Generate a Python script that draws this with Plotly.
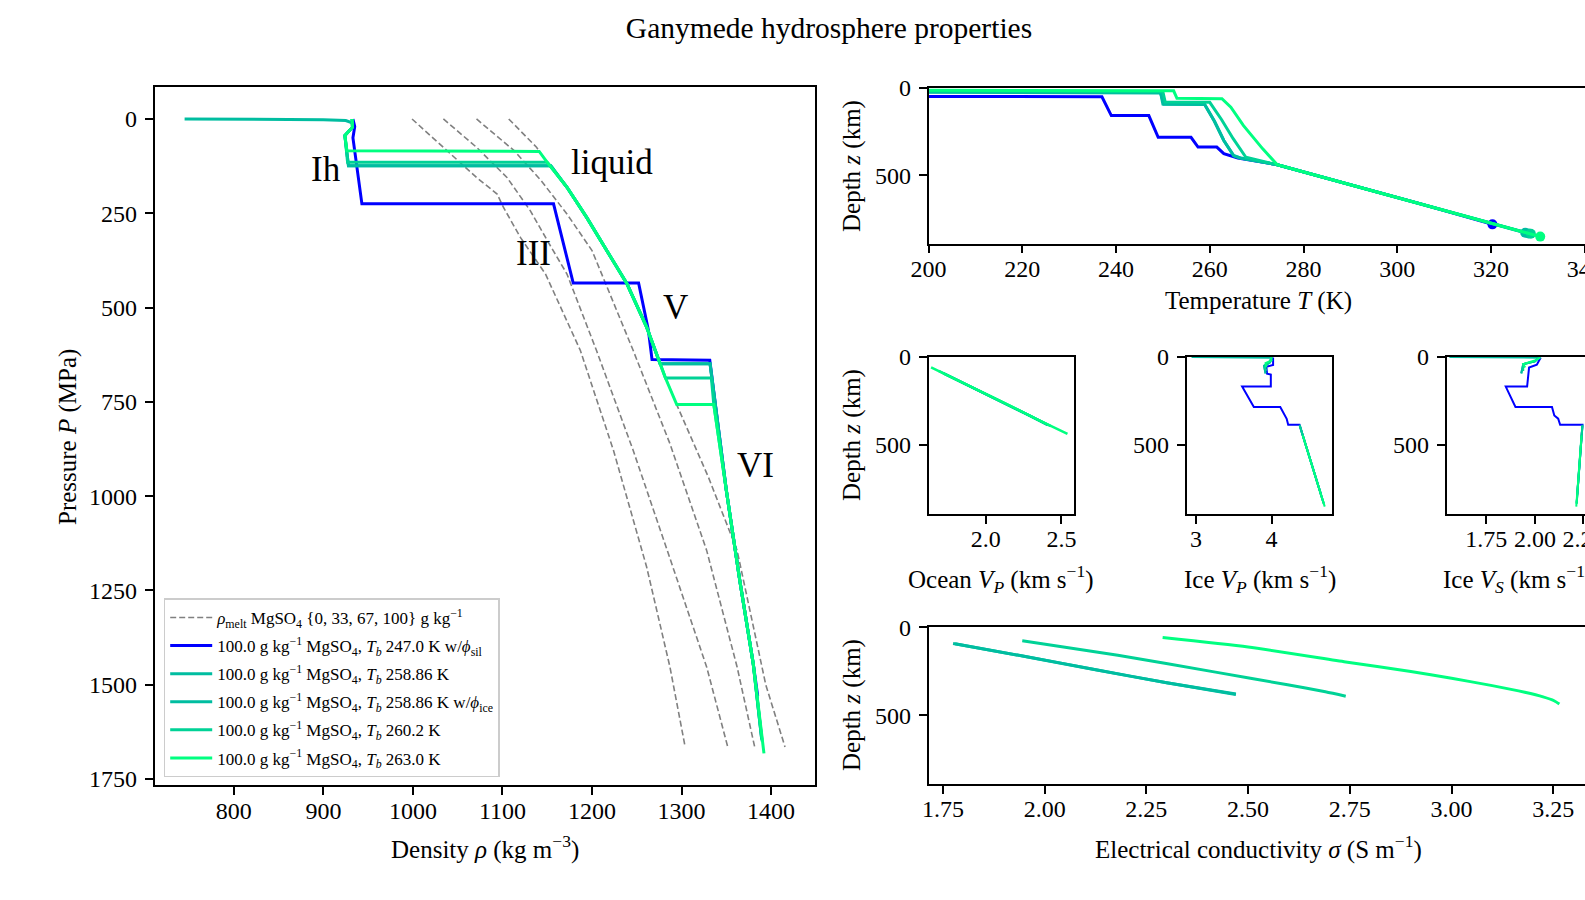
import plotly.graph_objects as go

FONT = "Liberation Serif, Times New Roman, serif"
W, H = 1585, 900

# ---------------- series metadata ----------------
series_names = [
    "100.0 g kg<sup>−1</sup> MgSO<sub>4</sub>, <i>T</i><sub><i>b</i></sub> 247.0 K w/<i>ϕ</i><sub>sil</sub>",
    "100.0 g kg<sup>−1</sup> MgSO<sub>4</sub>, <i>T</i><sub><i>b</i></sub> 258.86 K",
    "100.0 g kg<sup>−1</sup> MgSO<sub>4</sub>, <i>T</i><sub><i>b</i></sub> 258.86 K w/<i>ϕ</i><sub>ice</sub>",
    "100.0 g kg<sup>−1</sup> MgSO<sub>4</sub>, <i>T</i><sub><i>b</i></sub> 260.2 K",
    "100.0 g kg<sup>−1</sup> MgSO<sub>4</sub>, <i>T</i><sub><i>b</i></sub> 263.0 K",
]
series_colors = ["rgb(0,0,255)", "rgb(0,189,160)", "rgb(0,189,160)", "rgb(0,210,150)", "rgb(0,255,128)"]
melt_name = "<i>ρ</i><sub>melt</sub> MgSO<sub>4</sub> {0, 33, 67, 100} g kg<sup>−1</sup>"

# ---------------- left panel: density vs pressure ----------------
melt_rho = [
    [999, 1038, 1071, 1094, 1101, 1120, 1148, 1187, 1224, 1261, 1287, 1304],
    [1034, 1071, 1105, 1131, 1150, 1172, 1205, 1246, 1284, 1328, 1352],
    [1071, 1113, 1143, 1172, 1200, 1246, 1287, 1328, 1362, 1382],
    [1107, 1138, 1150, 1172, 1194, 1216.5, 1239, 1261, 1276, 1295, 1330, 1362, 1394, 1415.5],
]
melt_P = [
    [0, 84, 155, 199, 234, 314, 411, 614, 879, 1188, 1453, 1665],
    [0, 75, 155, 243, 322, 411, 614, 879, 1144, 1453, 1669],
    [0, 84, 163, 252, 349, 614, 861, 1144, 1453, 1669],
    [0, 75, 115, 181, 261, 349, 437, 552, 649, 760, 950, 1144, 1500, 1665],
]

rho = [
    [933, 935, 933, 936, 943, 1157, 1179, 1252, 1263, 1267, 1331.5, 1350, 1365, 1380, 1385],
    [932, 932.5, 924, 926, 928, 1154, 1172, 1194, 1216.5, 1239, 1261, 1276, 1331.8, 1350, 1365, 1380, 1389.5],
    [745, 800, 860, 900, 925, 932, 932.5, 924, 926, 928, 1154, 1172, 1194, 1216.5, 1239, 1261, 1276,
     1331.8, 1350, 1365, 1380, 1389.5],
    [932, 932.5, 924, 926, 927, 1150, 1172, 1194, 1216.5, 1239, 1261, 1276, 1282, 1333.3, 1336, 1350,
     1365, 1380, 1390],
    [932, 932.5, 924, 926.3, 1141, 1150, 1172, 1194, 1216.5, 1239, 1261, 1276, 1282, 1294.6, 1336, 1350,
     1365, 1380, 1392],
]
pres = [
    [0, 20, 50, 100, 225, 225, 435, 435, 561, 638, 640, 985, 1224, 1444, 1530],
    [0, 22, 44, 84, 124, 124, 181, 261, 349, 437, 552, 649, 649, 985, 1224, 1444, 1645],
    [0, 0.4, 1, 2, 4, 10, 22, 44, 84, 124, 124, 181, 261, 349, 437, 552, 649, 649, 985, 1224, 1444, 1645],
    [0, 22, 44, 84, 115, 115, 181, 261, 349, 437, 552, 649, 687, 687, 757, 985, 1224, 1444, 1650],
    [0, 22, 44, 84, 86, 115, 181, 261, 349, 437, 552, 649, 687, 757, 757, 985, 1224, 1444, 1682],
]

phase_labels = ["Ih", "liquid", "III", "V", "VI"]
phase_rho = [903, 1222, 1135, 1293, 1383]
phase_P = [134, 115, 356, 501, 919]

# ---------------- temperature vs depth ----------------
temp_T = [
    [200, 237, 239, 247, 249, 256, 257.5, 261.5, 263, 266, 274.4, 290, 305, 320.3],
    [200, 249.5, 250, 258.9, 261, 263, 265.1, 266.5, 274.4, 290, 305, 327.3],
    [200, 249.5, 250.2, 258.9, 261, 263, 265.1, 266.5, 274.4, 290, 305, 328],
    [200, 250, 250.5, 260, 262.5, 265, 267.7, 274.4, 290, 305, 328.5],
    [200, 252.3, 253, 262.6, 264.5, 267.2, 271.3, 274.4, 290, 305, 330.5],
]
temp_z = [
    [48, 50, 158, 158, 282, 282, 338, 338, 375, 400, 439, 553, 663, 780],
    [22, 25, 91, 93, 190, 300, 386, 400, 439, 553, 663, 828],
    [25, 28, 93, 95, 190, 300, 388, 400, 439, 553, 663, 832],
    [18, 21, 80, 82, 180, 290, 396, 439, 553, 663, 834],
    [13, 16, 59, 61, 110, 215, 348, 439, 553, 663, 850],
]

# ---------------- ocean Vp ----------------
ocean_vp = [
    None,
    [1.72, 1.905, 2.10, 2.285, 2.41],
    [1.725, 1.905, 2.10, 2.285, 2.41],
    [1.69, 1.86, 2.10, 2.285, 2.43],
    [1.64, 1.86, 2.10, 2.33, 2.54],
]
ocean_z = [
    None,
    [92, 170, 250, 330, 385],
    [94, 170, 250, 330, 387],
    [79, 150, 250, 330, 393],
    [59, 150, 250, 350, 437],
]

# ---------------- ice Vp ----------------
ice_vp = [
    [4.02, 4.02, 3.93, 3.94, 3.99, 3.99, 3.61, 3.765, 4.115, 4.18, 4.20, 4.22, 4.37, 4.654],
    [4.00, 3.98, 3.90, 3.92, None, 4.37, 4.688],
    [2.94, 3.5, 3.9, 4.00, 3.98, 3.90, 3.92, None, 4.371, 4.69],
    [4.00, 3.97, 3.91, 3.93, None, 4.376, 4.692],
    [3.99, 4.00, 3.92, 3.93, None, 4.413, 4.704],
]
ice_vp_z = [
    [3, 45, 55, 95, 100, 168, 168, 284, 284, 332, 351, 385, 385, 780],
    [3, 30, 50, 92, None, 385, 828],
    [0, 1, 2, 4, 30, 50, 94, None, 387, 832],
    [3, 30, 55, 79, None, 393, 834],
    [2, 20, 35, 59, None, 445, 850],
]

# ---------------- ice Vs ----------------
ice_vs = [
    [2.03, 2.01, 1.97, 1.96, 1.85, 1.90, 2.088, 2.10, 2.12, 2.13, 2.245, 2.218],
    [2.02, 2.00, 1.94, 1.93, None, 2.245, 2.215],
    [1.56, 1.80, 1.95, 2.02, 2.00, 1.94, 1.93, None, 2.245, 2.215],
    [2.02, 2.00, 1.94, 1.94, None, 2.244, 2.215],
    [2.03, 2.00, 1.94, 1.95, None, 2.24, 2.213],
]
ice_vs_z = [
    [3, 44, 60, 168, 168, 284, 284, 332, 350, 385, 385, 780],
    [5, 25, 40, 92, None, 385, 828],
    [0, 1, 2, 4, 25, 40, 94, None, 387, 832],
    [5, 25, 40, 79, None, 393, 834],
    [2, 20, 40, 59, None, 445, 850],
]

# ---------------- conductivity ----------------
cond_sig = [
    None,
    [1.775, 1.95, 2.123, 2.30, 2.47],
    [1.78, 1.955, 2.125, 2.30, 2.47],
    [1.945, 2.18, 2.42, 2.597, 2.69, 2.74],
    [2.29, 2.50, 2.74, 2.90, 3.00, 3.10, 3.18, 3.225, 3.252, 3.265],
]
cond_z = [
    None,
    [92, 165, 240, 315, 380],
    [94, 167, 242, 316, 382],
    [77, 159, 255, 327, 367, 392],
    [58, 112, 197, 252, 290, 332, 370, 396, 418, 437],
]

fig = go.Figure()

# left panel traces
for k in range(len(melt_rho)):
    fig.add_trace(go.Scatter(
        x=melt_rho[k], y=melt_P[k], mode="lines", xaxis="x", yaxis="y",
        line=dict(color="rgb(128,128,128)", width=1.6, dash="6px,3px"),
        name=melt_name, legendgroup="melt", showlegend=(k == 0)))
for i in range(5):
    fig.add_trace(go.Scatter(
        x=rho[i], y=pres[i], mode="lines", xaxis="x", yaxis="y",
        line=dict(color=series_colors[i], width=3), name=series_names[i],
        legendgroup="s%d" % i))

# temperature panel
for i in range(5):
    fig.add_trace(go.Scatter(
        x=temp_T[i], y=temp_z[i], mode="lines", xaxis="x2", yaxis="y2",
        line=dict(color=series_colors[i], width=3), showlegend=False))
    fig.add_trace(go.Scatter(
        x=[temp_T[i][-1]], y=[temp_z[i][-1]], mode="markers", xaxis="x2", yaxis="y2",
        marker=dict(color=series_colors[i], size=10), showlegend=False, cliponaxis=False))

# ocean Vp
for i in range(5):
    if ocean_vp[i] is None:
        continue
    fig.add_trace(go.Scatter(
        x=ocean_vp[i], y=ocean_z[i], mode="lines", xaxis="x3", yaxis="y3",
        line=dict(color=series_colors[i], width=2.5), showlegend=False))

# ice Vp / Vs
for i in range(5):
    fig.add_trace(go.Scatter(
        x=ice_vp[i], y=ice_vp_z[i], mode="lines", xaxis="x4", yaxis="y4",
        line=dict(color=series_colors[i], width=2), showlegend=False, connectgaps=False))
    fig.add_trace(go.Scatter(
        x=ice_vs[i], y=ice_vs_z[i], mode="lines", xaxis="x5", yaxis="y5",
        line=dict(color=series_colors[i], width=2), showlegend=False, connectgaps=False))

# conductivity
for i in range(5):
    if cond_sig[i] is None:
        continue
    fig.add_trace(go.Scatter(
        x=cond_sig[i], y=cond_z[i], mode="lines", xaxis="x6", yaxis="y6",
        line=dict(color=series_colors[i], width=3, shape="spline", smoothing=0.6), showlegend=False))


def px_x(p):
    return p / W


def px_y(p):
    return 1 - p / H


tickfont = dict(family=FONT, size=24, color="black")


def ax(domain, rng, mirror=True, standoff=-5, **kw):
    d = dict(domain=domain, range=rng, showline=True, linecolor="black", linewidth=1.6,
             mirror=mirror, ticks="outside", ticklen=8, tickwidth=1.5, tickcolor="black",
             showgrid=False, zeroline=False, tickfont=tickfont, automargin=False,
             ticklabelstandoff=standoff, ticklabeloverflow="allow")
    d.update(kw)
    return d


def yax(domain, rng, mirror=True, **kw):
    return ax(domain, rng, mirror=mirror, standoff=3, **kw)


mid_y = [px_y(513.7), px_y(357)]
fig.update_layout(
    width=W, height=H,
    margin=dict(l=0, r=0, t=0, b=0),
    paper_bgcolor="white", plot_bgcolor="white",
    font=dict(family=FONT, color="black"),
    title=dict(text="Ganymede hydrosphere properties", x=829 / W, xanchor="center",
               y=px_y(28), yanchor="middle", font=dict(family=FONT, size=29.5, color="black")),
    xaxis=ax([px_x(154.6), px_x(815)], [711.5, 1449], dtick=100, tick0=800),
    yaxis=yax([px_y(785), px_y(87.3)], [1766, -84], dtick=250, tick0=0),
    xaxis2=ax([px_x(928.5), 1.0], [200, 340.05], dtick=20, tick0=200, anchor="y2"),
    yaxis2=yax([px_y(243.6), px_y(88)], [890, 0], tickvals=[0, 500], anchor="x2", mirror=False),
    xaxis3=ax([px_x(928.5), px_x(1074)], [1.623, 2.583], tickvals=[2.0, 2.5], tickformat=".1f", anchor="y3"),
    yaxis3=yax(mid_y, [890, 0], tickvals=[0, 500], anchor="x3"),
    xaxis4=ax([px_x(1186.5), px_x(1332.2)], [2.873, 4.803], tickvals=[3, 4], anchor="y4"),
    yaxis4=yax(mid_y, [890, 0], tickvals=[0, 500], anchor="x4"),
    xaxis5=ax([px_x(1446.5), 1.0], [1.545, 2.258], tickvals=[1.75, 2.0, 2.25], tickformat=".2f", anchor="y5"),
    yaxis5=yax(mid_y, [890, 0], tickvals=[0, 500], anchor="x5", mirror=False),
    xaxis6=ax([px_x(928.5), 1.0], [1.7146, 3.328], dtick=0.25, tick0=1.75, tickformat=".2f", anchor="y6"),
    yaxis6=yax([px_y(783.7), px_y(627.3)], [890, 0], tickvals=[0, 500], anchor="x6", mirror=False),
    legend=dict(x=px_x(163.7), y=px_y(598.4), xanchor="left", yanchor="top",
                bgcolor="rgba(255,255,255,0.85)", bordercolor="rgb(204,204,204)", borderwidth=1.5,
                font=dict(family=FONT, size=17, color="black"), tracegroupgap=3, itemwidth=42),
    showlegend=True,
)

annotations = []
for lab, xv, yv in zip(phase_labels, phase_rho, phase_P):
    annotations.append(dict(text=lab, x=xv, y=yv, xref="x", yref="y", showarrow=False,
                            font=dict(family=FONT, size=35, color="black"),
                            xanchor="center", yanchor="middle"))

axis_titles = [
    ("Pressure <i>P</i> (MPa)", 68, 437, -90),
    ("Density <i>ρ</i> (kg m<sup>−3</sup>)", 485, 847, 0),
    ("Depth <i>z</i> (km)", 852, 166, -90),
    ("Temperature <i>T</i> (K)", 1258.5, 301, 0),
    ("Depth <i>z</i> (km)", 852, 435, -90),
    ("Ocean <i>V</i><sub><i>P</i></sub> (km s<sup>−1</sup>)", 1001, 579, 0),
    ("Ice <i>V</i><sub><i>P</i></sub> (km s<sup>−1</sup>)", 1259.5, 579, 0),
    ("Ice <i>V</i><sub><i>S</i></sub> (km s<sup>−1</sup>)", 1518, 579, 0),
    ("Depth <i>z</i> (km)", 852, 705, -90),
    ("Electrical conductivity <i>σ</i> (S m<sup>−1</sup>)", 1258.5, 847, 0),
]
for txt, xpx, ypx, ang in axis_titles:
    annotations.append(dict(text=txt, x=px_x(xpx), y=px_y(ypx), xref="paper", yref="paper",
                            showarrow=False, textangle=ang, xanchor="center", yanchor="middle",
                            font=dict(family=FONT, size=25, color="black")))
fig.update_layout(annotations=annotations)

fig.write_html("out.html", config={"displayModeBar": False},
               post_script="document.body.style.margin='0px';document.body.style.overflow='hidden';")
